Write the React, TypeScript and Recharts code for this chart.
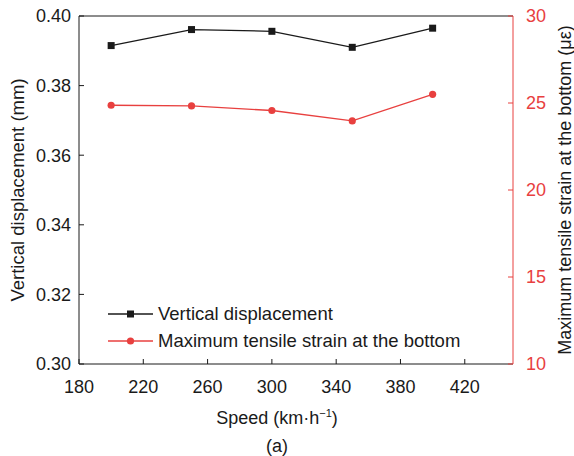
import { LineChart, Line, XAxis, YAxis, ReferenceLine, Legend } from 'recharts';

// speed in km/h
const speeds = [200, 250, 300, 350, 400];
// vertical displacement (mm), left axis
const displacement = [0.3915, 0.3961, 0.3956, 0.391, 0.3965];
// max tensile strain at the bottom (με), right axis
const strain = [24.87, 24.83, 24.57, 23.97, 25.5];

const xTicks = [180, 220, 260, 300, 340, 380, 420];
const leftTicks = [0.3, 0.32, 0.34, 0.36, 0.38, 0.4];
const rightTicks = [10, 15, 20, 25, 30];

const seriesNames = ['Vertical displacement', 'Maximum tensile strain at the bottom'];

const BLACK = '#1a1a1a';
const RED = '#e8403f';
const FONT = 'Arial, "Liberation Sans", Helvetica, sans-serif';

const data = speeds.map((s, i) => ({ speed: s, disp: displacement[i], strain: strain[i] }));

function LeftTitle({ viewBox }: any) {
  const x = viewBox.x - 2;
  const y = viewBox.y + viewBox.height / 2;
  return (
    <text x={x} y={y} transform={`rotate(-90 ${x} ${y})`} textAnchor="middle" dominantBaseline="central"
      fontSize={18.5} fill={BLACK} fontFamily={FONT}>
      Vertical displacement (mm)
    </text>
  );
}

function RightTitle({ viewBox }: any) {
  const x = viewBox.x + 52;
  const y = viewBox.y + viewBox.height / 2;
  return (
    <text x={x} y={y} transform={`rotate(-90 ${x} ${y})`} textAnchor="middle" dominantBaseline="central"
      fontSize={18} fill={BLACK} fontFamily={FONT}>
      Maximum tensile strain at the bottom (με)
    </text>
  );
}

function LegendBox() {
  const colors = [BLACK, RED];
  return (
    <div style={{ fontFamily: FONT, fontSize: 18.5, color: BLACK }}>
      {seriesNames.map((name, i) => (
        <div key={name} style={{ display: 'flex', alignItems: 'center', height: 26.5 }}>
          <svg width={50} height={12}>
            <line x1={0} y1={6} x2={45} y2={6} stroke={colors[i]} strokeWidth={1.3} />
            {i === 0 ? (
              <rect x={19} y={2.5} width={7} height={7} fill={colors[i]} />
            ) : (
              <circle cx={22.5} cy={6} r={3.6} fill={colors[i]} />
            )}
          </svg>
          <span style={{ whiteSpace: 'nowrap' }}>{name}</span>
        </div>
      ))}
    </div>
  );
}

const squareDot = (props: any) => {
  const { cx, cy, index } = props;
  return <rect key={`sq-${index}`} x={cx - 3.5} y={cy - 3.5} width={7} height={7} fill={BLACK} />;
};

export default function App() {
  return (
    <div style={{ position: 'absolute', left: 0, top: 0, width: 574, height: 456, background: '#fff' }}>
      <LineChart width={574} height={456} data={data} margin={{ top: 16, right: 1, bottom: 62, left: 19 }}>
        <XAxis
          dataKey="speed"
          type="number"
          domain={[180, 450]}
          ticks={xTicks}
          allowDataOverflow
          stroke={BLACK}
          tickSize={-5}
          tickMargin={21}
          height={30}
          tick={{ fill: BLACK, fontSize: 18, fontFamily: FONT }}
        />
        <YAxis
          yAxisId="left"
          domain={[0.3, 0.4]}
          ticks={leftTicks}
          tickFormatter={(v: number) => v.toFixed(2)}
          stroke={BLACK}
          width={60}
          tickSize={-5}
          tickMargin={13}
          tick={{ fill: BLACK, fontSize: 18, fontFamily: FONT }}
          label={<LeftTitle />}
        />
        <YAxis
          yAxisId="right"
          orientation="right"
          domain={[10, 30]}
          ticks={rightTicks}
          stroke={RED}
          width={60}
          tickSize={-5}
          tickMargin={18}
          tick={{ fill: RED, fontSize: 18, fontFamily: FONT }}
          label={<RightTitle />}
        />
        <ReferenceLine yAxisId="left" y={0.4} stroke={BLACK} strokeWidth={1} />
        <Legend
          layout="horizontal"
          verticalAlign="middle"
          align="center"
          wrapperStyle={{ position: 'absolute', left: 108, top: 301, width: 'auto', height: 'auto' }}
          content={<LegendBox />}
        />
        <Line
          yAxisId="left"
          dataKey="disp"
          stroke={BLACK}
          strokeWidth={1.3}
          dot={squareDot}
          isAnimationActive={false}
        />
        <Line
          yAxisId="right"
          dataKey="strain"
          stroke={RED}
          strokeWidth={1.3}
          dot={{ r: 3.6, fill: RED, stroke: RED, strokeWidth: 0 }}
          isAnimationActive={false}
        />
      </LineChart>
      <div style={{ position: 'absolute', left: 0, width: 554, top: 407, textAlign: 'center', fontFamily: FONT, fontSize: 18, color: BLACK }}>
        Speed (km·h<sup style={{ fontSize: 11 }}>−1</sup>)
      </div>
      <div style={{ position: 'absolute', left: 0, width: 554, top: 436, textAlign: 'center', fontFamily: FONT, fontSize: 18, color: BLACK }}>
        (a)
      </div>
    </div>
  );
}
